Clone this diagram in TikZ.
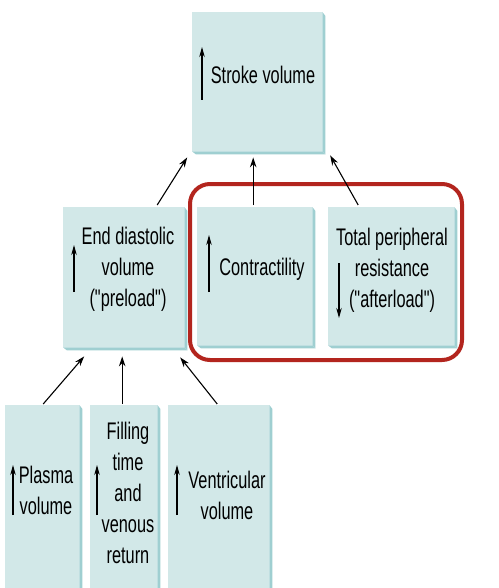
\documentclass[tikz,border=0pt]{standalone}
\usepackage{fontspec}
\setmainfont{Liberation Sans}[FakeStretch=0.68, Ligatures=TeXOff]
\usetikzlibrary{arrows.meta,calc}
\definecolor{boxc}{HTML}{D2E8E8}
\definecolor{bevc}{HTML}{9FCFD1}
\definecolor{redc}{HTML}{B3251E}
\newcommand\bevel[1]{%
  \fill[bevc] (#1.north east) -- ++(3,4) -- ($(#1.south east)+(3,3)$) -- (#1.south east) -- cycle;
  \fill[bevc] (#1.south west) -- (#1.south east) -- ($(#1.south east)+(3,3)$) -- ($(#1.south west)+(4,3)$) -- cycle;}
\begin{document}
\begin{tikzpicture}[x=1pt,y=-1pt,
  box/.style={fill=boxc, inner sep=0pt, anchor=north west},
  lbl/.style={align=center, inner sep=0pt, font=\fontsize{24}{31}\selectfont},
  conn/.style={-{Stealth[length=10pt,width=6.5pt]}, line width=1.1pt},
  ind/.style={-{Stealth[length=10pt,width=5.5pt]}, line width=1.1pt}]
\useasboundingbox (0,0) rectangle (498,588);
\fill[white] (0,0) rectangle (498,588);
% boxes
\node[box, minimum width=130pt, minimum height=139pt] (sv) at (192,12) {};
\node[box, minimum width=121pt, minimum height=140pt] (edv) at (63,207) {};
\node[box, minimum width=115pt, minimum height=138pt] (con) at (197,207) {};
\node[box, minimum width=126pt, minimum height=138pt] (tpr) at (328,207) {};
\node[box, minimum width=74pt, minimum height=190pt] (pla) at (5,405) {};
\node[box, minimum width=67pt, minimum height=190pt] (fil) at (90,405) {};
\node[box, minimum width=101pt, minimum height=190pt] (ven) at (168,405) {};
\bevel{sv}\bevel{edv}\bevel{con}\bevel{tpr}\bevel{pla}\bevel{fil}\bevel{ven}
% red frame
\draw[redc, line width=4pt, rounded corners=20pt] (190,184) rectangle (462,360);
% labels
\node[lbl] (svt) at (263,75) {Stroke volume};
\node[lbl] (edvt) at (128,269) {End diastolic\\volume\\("preload")};
\node[lbl] (cont) at (262,269) {Contractility};
\node[lbl] (tprt) at (392,270) {Total peripheral\\resistance\\("afterload")};
\node[lbl] (plat) at (46,490) {Plasma\\volume};
\node[lbl] (filt) at (128,493) {Filling\\time\\and\\venous\\return};
\node[lbl] (vent) at (227,495) {Ventricular\\volume};
% indicator arrows
\draw[ind] (202,100) -- (202,47);
\draw[ind] (74,292) -- (74,245);
\draw[ind] (209,292) -- (209,235);
\draw[ind] (339,263) -- (339,318);
\draw[ind] (13,515) -- (13,465);
\draw[ind] (97,515) -- (97,465);
\draw[ind] (177,515) -- (177,465);
% connectors
\draw[conn] ([xshift=33.5pt,yshift=2pt]edv.north) -- ([xshift=-70pt,yshift=-6pt]sv.south);
\draw[conn] ([xshift=-1.5pt,yshift=2pt]con.north) -- ([xshift=-4pt,yshift=-6pt]sv.south);
\draw[conn] ([xshift=-33pt,yshift=2pt]tpr.north) -- ([xshift=73pt,yshift=-4pt]sv.south);
\draw[conn] ([xshift=1pt,yshift=1pt]pla.north) -- ([xshift=-39.5pt,yshift=-9pt]edv.south);
\draw[conn] ([xshift=-1.5pt,yshift=1pt]fil.north) -- ([xshift=-1.5pt,yshift=-9pt]edv.south);
\draw[conn] ([xshift=-1.5pt,yshift=1pt]ven.north) -- ([xshift=56.5pt,yshift=-10pt]edv.south);
\end{tikzpicture}
\end{document}
